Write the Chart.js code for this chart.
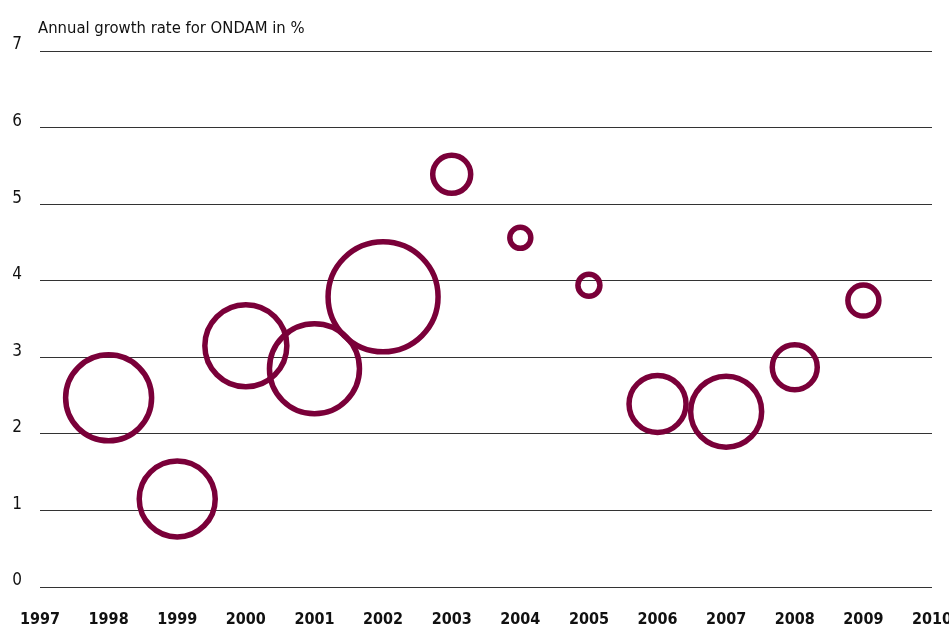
<!DOCTYPE html>
<html>
<head>
<meta charset="utf-8">
<script src="https://cdn.jsdelivr.net/npm/chart.js@4/dist/chart.umd.min.js"></script>
<style>
  html, body { margin: 0; padding: 0; background: #fff; }
  #wrap { width: 949px; height: 626px; position: relative; }
</style>
</head>
<body>
<div id="wrap"><canvas id="bubChart"></canvas></div>
<script>
// ONDAM growth, year vs rate, bubble radius in px
const years = [1998, 1999, 2000, 2001, 2002, 2003, 2004, 2005, 2006, 2007, 2008, 2009];
const growth = [2.47, 1.15, 3.15, 2.85, 3.79, 5.39, 4.56, 3.94, 2.39, 2.29, 2.87, 3.74];
const radius = [43, 38, 41, 45, 55, 19, 10.5, 11, 28.5, 35.5, 22.5, 15.5];
const yTicks = [0, 1, 2, 3, 4, 5, 6, 7];
const chartTitle = 'Annual growth rate for ONDAM in %';

const fontFam = '"Liberation Sans Narrow", "DejaVu Sans Condensed", "Liberation Sans", sans-serif';

const titlePlugin = {
    id: 'topTitle',
    afterDraw(chart) {
        const c = chart.ctx;
        c.save();
        c.font = '16.5px ' + fontFam;
        c.fillStyle = '#111';
        c.textBaseline = 'alphabetic';
        c.textAlign = 'left';
        c.fillText(chartTitle, chart.chartArea.left - 2, 33);
        c.restore();
    }
};

const ctx1 = document.getElementById('bubChart').getContext('2d');
const bubChart = new Chart(ctx1, {
    type: 'bubble',
    data: {
        datasets: [{
            data: years.map((y, i) => ({ x: y, y: growth[i], r: radius[i] })),
            backgroundColor: 'rgba(0,0,0,0)',
            borderColor: '#7a0039',
            borderWidth: 5.5,
            hoverBorderWidth: 5.5,
            clip: false
        }]
    },
    plugins: [titlePlugin],
    options: {
        responsive: true,
        maintainAspectRatio: false,
        animation: false,
        layout: {
            autoPadding: false,
            padding: { top: 51, right: 17, left: 0, bottom: 0 }
        },
        plugins: {
            legend: { display: false },
            tooltip: { enabled: false }
        },
        scales: {
            x: {
                type: 'linear',
                min: 1997,
                max: 2010,
                afterFit(scale) {
                    scale.height = 39;
                    scale.paddingLeft = 0;
                    scale.paddingRight = 0;
                },
                grid: { display: false, drawTicks: false },
                border: { display: false },
                ticks: {
                    stepSize: 1,
                    padding: 23,
                    color: '#111',
                    maxRotation: 0,
                    autoSkip: false,
                    font: { family: fontFam, size: 16, weight: 'bold' },
                    callback: v => String(v)
                }
            },
            y: {
                min: 0,
                max: 7,
                afterFit(scale) {
                    scale.width = 40;
                    scale.paddingTop = 0;
                    scale.paddingBottom = 0;
                },
                afterBuildTicks(scale) {
                    scale.ticks = yTicks.map(v => ({ value: v }));
                },
                grid: {
                    color: '#333',
                    lineWidth: 1,
                    drawTicks: false
                },
                border: { display: false },
                ticks: {
                    padding: 18,
                    labelOffset: -6,
                    color: '#111',
                    font: { family: fontFam, size: 17 }
                }
            }
        }
    }
});
</script>
</body>
</html>
